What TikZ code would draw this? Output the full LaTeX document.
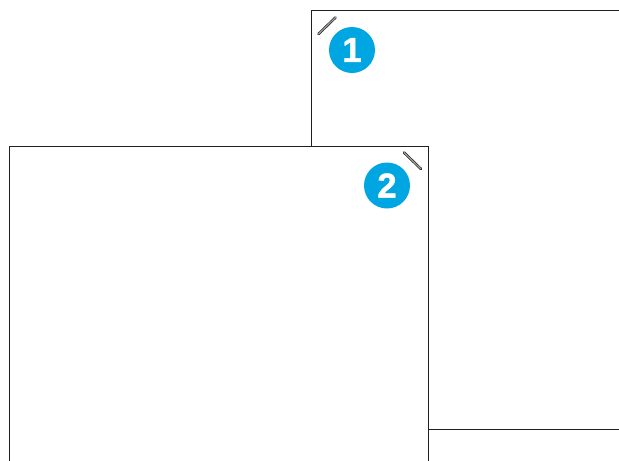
\documentclass[tikz,border=0pt]{standalone}
\usepackage{fontspec}
\setmainfont{Liberation Sans}
\newfontfamily\badgefont[FakeBold=1.2]{Liberation Sans Bold}
\usepackage{xcolor}
\definecolor{badgeblue}{RGB}{0,166,226}
\definecolor{sheetline}{RGB}{35,31,32}
\tikzset{
  sheet/.style={draw=sheetline, fill=white, line width=0.85pt},
  badge/.style={circle, fill=badgeblue, text=white, inner sep=0pt, minimum size=34.5pt, font=\badgefont\fontsize{26}{26}\selectfont},
  staple/.style={draw=sheetline, line width=0.5pt, line cap=round, double=gray!75, double distance=0.9pt}
}
\begin{document}
\begin{tikzpicture}[x=0.75pt, y=-0.75pt]
  \path[use as bounding box, clip] (0,0) rectangle (619,461);
  % lower sheet
  \draw[sheet] (311.5,10.5) rectangle (700,429.5);
  \node[badge] (one) at (352,50) {1};
  % upper sheet
  \draw[sheet] (9.5,146.5) rectangle (428.5,520);
  \node[badge] (two) at (387,185.5) {2};
  % staples
  \draw[staple] (318.5,34) -- (335.5,17.5);
  \draw[staple] (404,152.5) -- (421,169);
\end{tikzpicture}
\end{document}
